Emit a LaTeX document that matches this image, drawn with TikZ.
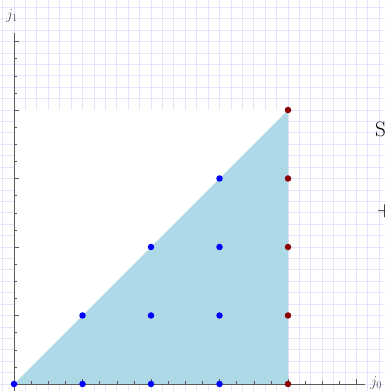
\documentclass[tikz,border=0pt]{standalone}
\usepackage{tikz}
\usepackage{fix-cm}
\definecolor{gridcol}{RGB}{228,228,250}
\definecolor{fillcol}{RGB}{173,216,230}
\definecolor{axiscol}{RGB}{90,90,90}
\definecolor{labcol}{RGB}{85,85,85}
\definecolor{dotblue}{RGB}{0,0,255}
\definecolor{dotred}{RGB}{139,0,0}
\tikzset{
  bdot/.style={circle,fill=dotblue,inner sep=0pt,minimum size=6.5pt},
  rdot/.style={circle,fill=dotred,inner sep=0pt,minimum size=6.5pt},
  axlab/.style={text=labcol,font=\fontsize{15}{15}\selectfont,inner sep=0pt},
}
\begin{document}
\begin{tikzpicture}[x=1pt,y=1pt]
\useasboundingbox (0,0) rectangle (385,391);
\begin{scope}[shift={(14,7)},x=68.5pt,y=68.5pt]
  \clip (-14/68.5,-7/68.5) rectangle (371/68.5,384/68.5);
  \draw[gridcol,line width=0.8pt,step=1/6] (-1,-1) grid (6,6);
  \fill[white] (0,0) rectangle (4,4);
  \fill[fillcol] (0,0) -- (4,0) -- (4,4) -- cycle;
  % axes
  \coordinate (o) at (0,0);
  \coordinate (xe) at (5.12,0);
  \coordinate (ye) at (0,5.12);
  \draw[axiscol,line width=0.6pt] (o) -- (xe);
  \draw[axiscol,line width=0.6pt] (0,-0.2) -- (ye);
  \foreach \t in {1,...,20}{
    \draw[axiscol,line width=0.4pt] (\t/4,0) -- (\t/4,0.04);
    \draw[axiscol,line width=0.4pt] (0,\t/4) -- (0.04,\t/4);
  }
  \foreach \t in {1,...,5}{
    \draw[axiscol,line width=0.4pt] (\t,0) -- (\t,0.07);
    \draw[axiscol,line width=0.4pt] (0,\t) -- (0.07,\t);
  }
  \node[axlab,anchor=west] (j0) at (5.2,0.02) {$j_0$};
  \node[axlab] (j1) at (-0.03,5.37) {$j_1$};
  % dots
  \foreach \p/\q in {0/0,1/0,2/0,3/0,1/1,2/1,3/1,2/2,3/2,3/3}{
    \node[bdot] (b\p\q) at (\p,\q) {};
  }
  \foreach \q in {0,...,4}{
    \node[rdot] (r\q) at (4,\q) {};
  }
  \node[anchor=west,font=\fontsize{21}{21}\selectfont] (S) at (5.22,3.72) {S};
  \node[anchor=west,font=\fontsize{21}{21}\selectfont] (P) at (5.25,2.52) {+};
\end{scope}
\end{tikzpicture}
\end{document}
